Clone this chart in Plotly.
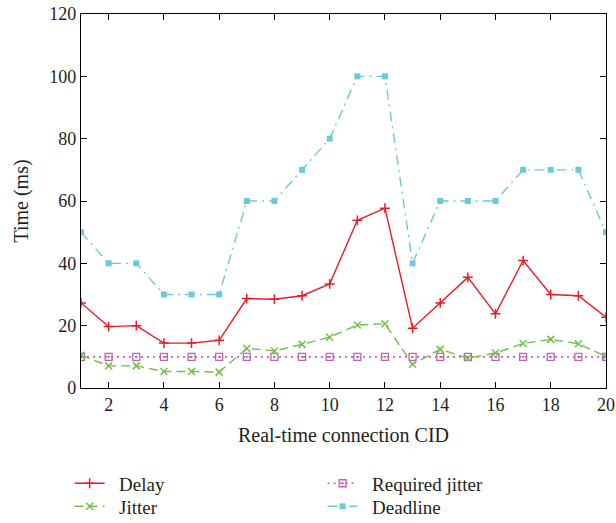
import plotly.graph_objects as go

cid = list(range(1, 21))
delay = [27.3, 19.7, 20.0, 14.4, 14.4, 15.3, 28.7, 28.5, 29.6, 33.4,
         53.8, 57.7, 19.2, 27.3, 35.5, 23.8, 40.9, 30.0, 29.6, 22.7]
jitter = [10.5, 7.1, 7.1, 5.3, 5.3, 5.1, 12.7, 11.9, 14.0, 16.3,
          20.2, 20.6, 7.6, 12.4, 9.6, 11.2, 14.3, 15.6, 14.2, 10.1]
required_jitter = [10] * 20
deadline = [50, 40, 40, 30, 30, 30, 60, 60, 70, 80,
            100, 100, 40, 60, 60, 60, 70, 70, 70, 50]

x_ticks = list(range(2, 21, 2))
y_ticks = list(range(0, 121, 20))

FONT = "Liberation Serif"
TXT = "#231f20"
PAD = "\u00a0\u00a0"

fig = go.Figure()
fig.add_trace(go.Scatter(x=cid, y=delay, name=PAD + "Delay", mode="lines+markers",
                         line=dict(color="#ec1c24", width=1.4),
                         marker=dict(symbol="cross-thin", size=7,
                                     line=dict(color="#ec1c24", width=1.5)),
                         legend="legend", legendrank=1))
fig.add_trace(go.Scatter(x=cid, y=required_jitter, name=PAD + "Required jitter", mode="lines+markers",
                         line=dict(color="#c062b2", width=1.6, dash="2px,4px"),
                         marker=dict(symbol="square-open-dot", size=7, color="#c062b2",
                                     line=dict(color="#c062b2", width=1.3)),
                         legend="legend", legendrank=2))
fig.add_trace(go.Scatter(x=cid, y=jitter, name=PAD + "Jitter", mode="lines+markers",
                         line=dict(color="#72bf4a", width=1.4, dash="9px,5px"),
                         marker=dict(symbol="x-thin", size=7,
                                     line=dict(color="#72bf4a", width=1.5)),
                         legend="legend2", legendrank=3))
fig.add_trace(go.Scatter(x=cid, y=deadline, name=PAD + "Deadline", mode="lines+markers",
                         line=dict(color="#6ccad8", width=1.4, dash="10px,5px,2px,5px"),
                         marker=dict(symbol="square", size=6, color="#6ccad8"),
                         legend="legend2", legendrank=4))

axis_common = dict(showline=True, linecolor="black", linewidth=1.3, mirror="ticks",
                   ticks="inside", ticklen=6, tickcolor="black", tickwidth=1.2,
                   showgrid=False, zeroline=False, automargin=False,
                   tickfont=dict(family=FONT, size=18, color=TXT))

fig.update_xaxes(range=[1, 20], tickvals=x_ticks,
                 title=dict(text="Real-time connection CID", font=dict(family=FONT, size=20, color=TXT),
                            standoff=14),
                 **axis_common)
fig.update_yaxes(range=[0, 120], tickvals=y_ticks,
                 title=dict(text="Time (ms)", font=dict(family=FONT, size=20, color=TXT),
                            standoff=15),
                 **axis_common)

legend_common = dict(orientation="h", xanchor="left", yanchor="top",
                     entrywidth=208, entrywidthmode="pixels",
                     font=dict(family=FONT, size=19, color=TXT),
                     bgcolor="rgba(0,0,0,0)")

fig.update_layout(
    width=616, height=523,
    margin=dict(l=81, r=10, t=14, b=135, autoexpand=False),
    plot_bgcolor="white", paper_bgcolor="white",
    font=dict(family=FONT, size=18, color=TXT),
    legend=dict(x=-0.0217, y=-0.2043, **legend_common),
    legend2=dict(x=-0.0217, y=-0.2658, **legend_common),
)

fig.write_html("out.html")
